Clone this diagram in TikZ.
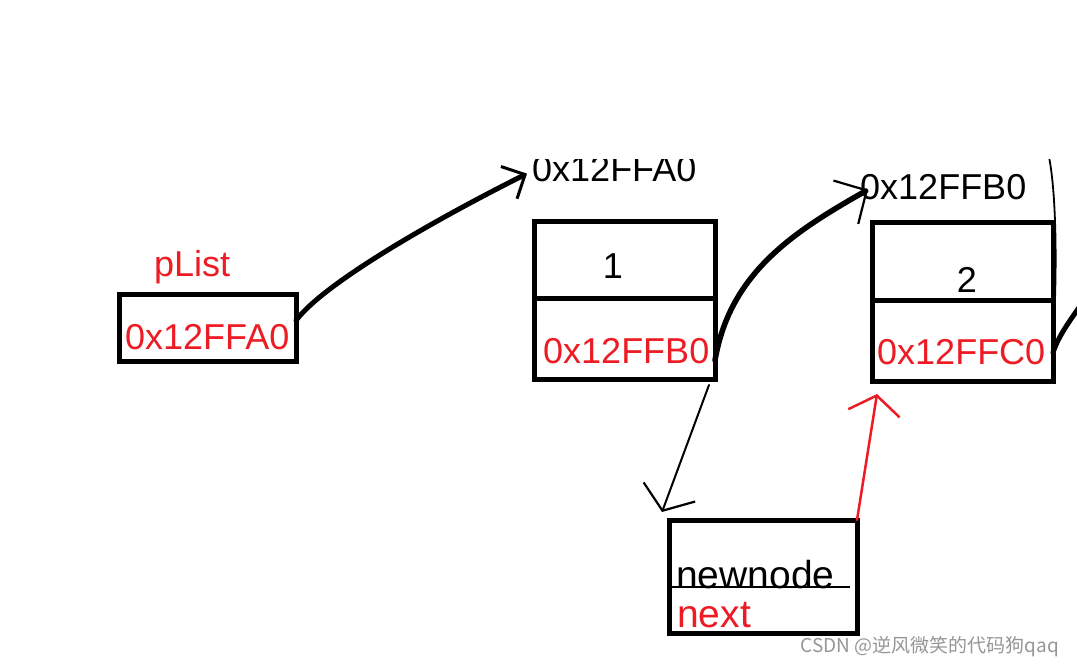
\documentclass[tikz,border=0pt]{standalone}
\usepackage{fontspec}
\setmainfont{Liberation Sans}
\newfontfamily\cjk{Noto Sans CJK SC}
\usetikzlibrary{arrows.meta, positioning}
\definecolor{penred}{RGB}{237,28,36}
\definecolor{markgray}{RGB}{150,150,150}

\begin{document}
\begin{tikzpicture}[x=1pt, y=-1pt,
	cell/.style={draw, line width=5pt, inner sep=0pt, outer sep=0pt},
	addr/.style={font=\fontsize{36}{40}\selectfont, inner sep=0pt, anchor=base west},
	word/.style={font=\fontsize{39}{42}\selectfont, inner sep=0pt, anchor=base west},
	pen/.style={line width=5pt, line cap=round},
	thinpen/.style={line width=2pt, line cap=round},
	barbs/.style n args={3}{-{Straight Barb[length=#1, width=#2, line width=#3]}}]
	
	\useasboundingbox (0,0) rectangle (1077,666);
	\fill[white] (0,0) rectangle (1077,666);
	
	% head pointer
	\node[addr, text=penred] (plistname) at (154,276) {pList};
	\node[cell, minimum width=177pt, minimum height=67pt] (plist) at (207.5,327.5) {};
	\node[addr, text=penred] (plistval) at (125,349) {0x12FFA0};
	
	% first node
	\node[cell, minimum width=181pt, minimum height=77pt] (n1data) at (624.5,259.5) {};
	\node[cell, minimum width=181pt, minimum height=81pt, below=0pt of n1data] (n1next) {};
	\node[addr, anchor=base] (n1val) at (613,278) {1};
	\node[addr, text=penred] (n1ptr) at (543,363) {0x12FFB0};
	
	% second node
	\node[cell, minimum width=181pt, minimum height=78pt] (n2data) at (962.5,261) {};
	\node[cell, minimum width=181pt, minimum height=81pt, below=0pt of n2data] (n2next) {};
	\node[addr, anchor=base] (n2val) at (967,292) {2};
	\node[addr, text=penred] (n2ptr) at (877,364) {0x12FFC0};
	\node[addr] (addrB) at (860,200) {0x12FFB0};
	
	% address of the first node, top cut off
	\begin{scope}
		\clip (0,160) rectangle (1077,666);
		\node[addr] (addrA) at (532,182) {0x12FFA0};
		\coordinate (cutend) at (1049,157);
		\draw[thinpen, line width=1.8pt] (n2next.east) .. controls +(4,-60) and +(8,40) .. (cutend);
	\end{scope}
	
	% new node
	\node[cell, minimum width=188pt, minimum height=113pt] (newbox) at (763,576.5) {};
	\node[word] (newname) at (676,588) {newnode};
	\node[word, text=penred] (newnext) at (677,627) {next};
	\draw[line width=2pt] ([yshift=-10pt]newbox.west) -- ([xshift=-7pt,yshift=-10pt]newbox.east);
	
	% pointers
	\draw[pen, barbs={18pt}{36pt}{3pt}] ([yshift=7pt]plist.east)
		.. controls +(30,-40) and +(-80,40) .. ([xshift=-5pt,yshift=-4pt]addrA.west);
	\draw[pen, line width=5.5pt, barbs={24pt}{50pt}{2.2pt}] ([yshift=-22pt]n1next.east)
		.. controls +(15,-90) and +(-70,40) .. ([xshift=8pt,yshift=-2pt]addrB.west);
	\draw[thinpen, barbs={20pt}{55pt}{2.2pt}] ([xshift=-6pt,yshift=-6pt]n1next.south east)
		-- ([xshift=-7pt,yshift=8pt]newbox.north west);
	\draw[thinpen, line width=2.5pt, penred, barbs={18pt}{52pt}{2.5pt}] (newbox.north east)
		-- ([xshift=5pt,yshift=-13pt]n2next.south west);
	\coordinate (offright) at (1080,306);
	\draw[pen] ([yshift=-12pt]n2next.east) .. controls +(6,-18) and +(-8,12) .. (offright);
	
	% watermark
	\node[font=\cjk\fontsize{19}{21}\selectfont, text=markgray, inner sep=0pt] (mark) at (930,647) {CSDN @逆风微笑的代码狗qaq};
	
\end{tikzpicture}
\end{document}
